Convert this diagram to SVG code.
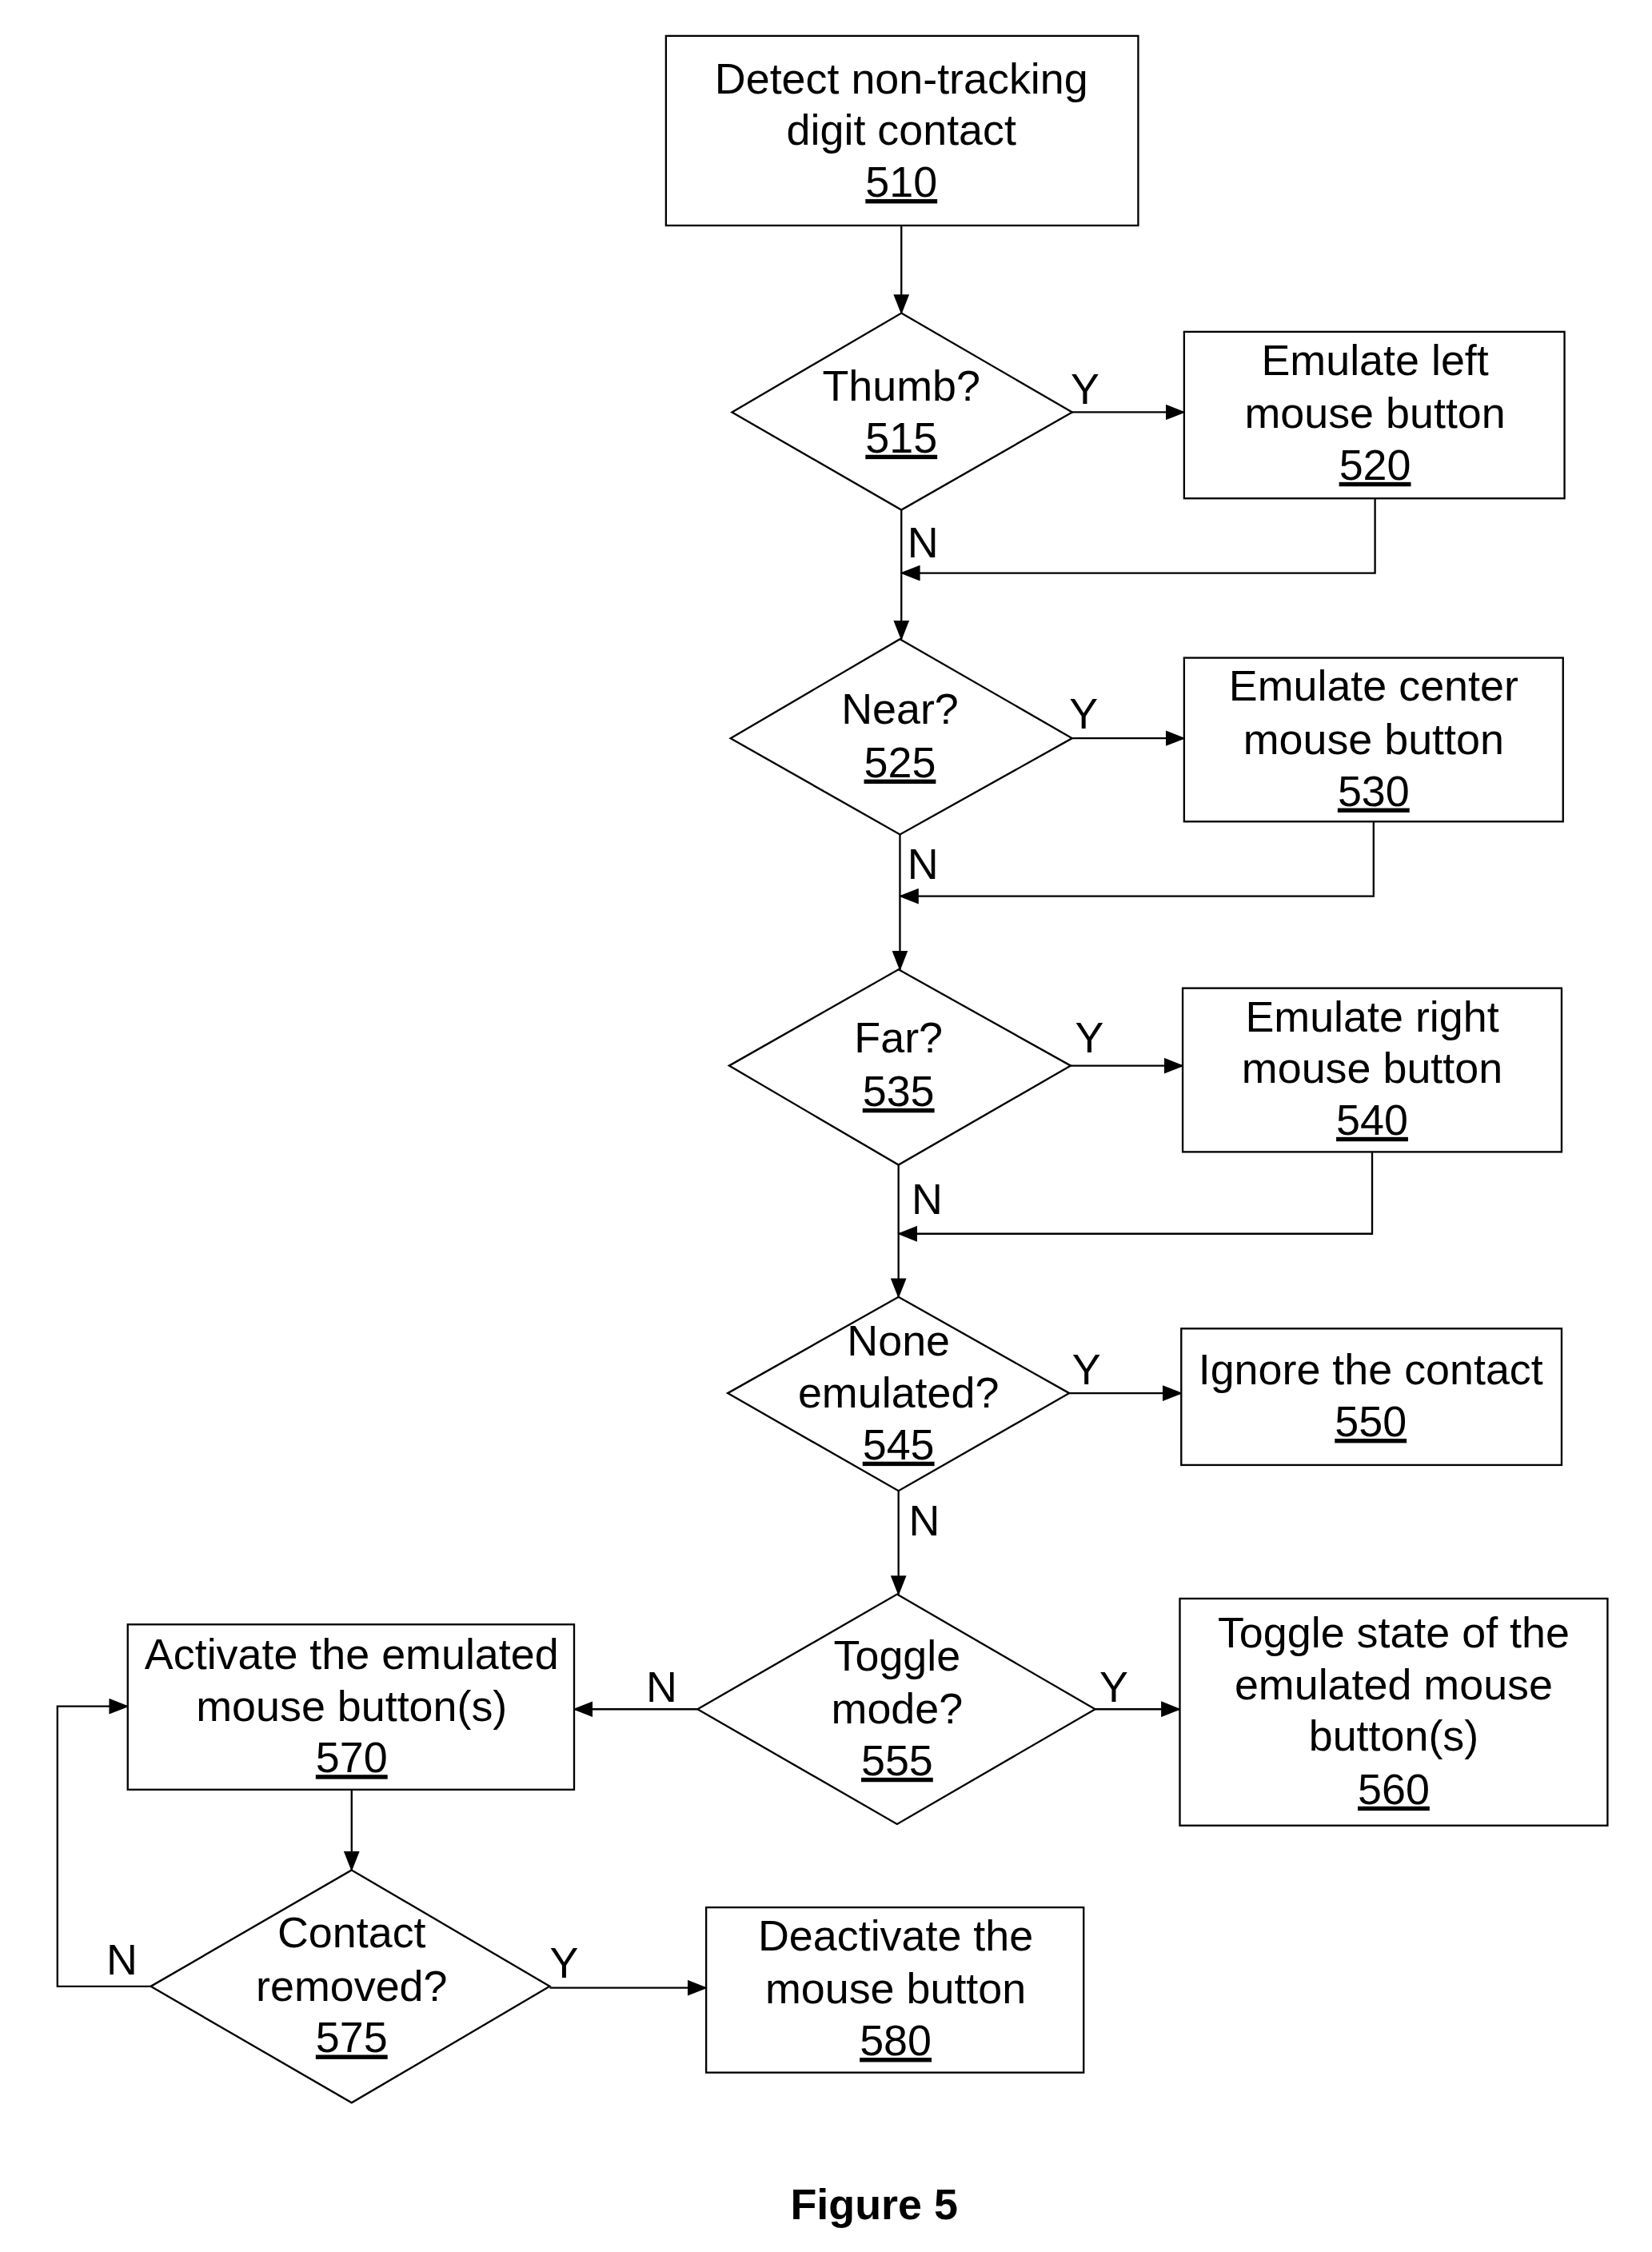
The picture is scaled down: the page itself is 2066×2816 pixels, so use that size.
<svg xmlns="http://www.w3.org/2000/svg" width="2066" height="2816" viewBox="0 0 2066 2816">
<style>
.s{fill:#fff;stroke:#000;stroke-width:1.3}
.l{fill:none;stroke:#000;stroke-width:1.3}
text{font-family:"Liberation Sans",Arial,sans-serif;font-size:30px;text-anchor:middle;fill:#000}
.u{text-decoration:underline}
</style>
<defs><marker id="a" markerWidth="14" markerHeight="11" refX="13" refY="5.5" orient="auto" markerUnits="userSpaceOnUse"><path d="M0,0L14,5.5L0,11z" fill="#000"/></marker></defs>
<rect width="2066" height="2816" fill="#fff"/>
<g transform="scale(1.795,1.796)">
<g id="connectors">
<path class="l" d="M628,157V218" marker-end="url(#a)"/>
<path class="l" d="M747,287H825" marker-end="url(#a)"/>
<path class="l" d="M958,347V399H628" marker-end="url(#a)"/>
<path class="l" d="M628,355V445" marker-end="url(#a)"/>
<path class="l" d="M747,514H825" marker-end="url(#a)"/>
<path class="l" d="M957,572V624H627" marker-end="url(#a)"/>
<path class="l" d="M627,581V675" marker-end="url(#a)"/>
<path class="l" d="M746,742H824" marker-end="url(#a)"/>
<path class="l" d="M956,802V859H626" marker-end="url(#a)"/>
<path class="l" d="M626,811V903" marker-end="url(#a)"/>
<path class="l" d="M745,970H823" marker-end="url(#a)"/>
<path class="l" d="M626,1038V1110" marker-end="url(#a)"/>
<path class="l" d="M763,1190H822" marker-end="url(#a)"/>
<path class="l" d="M486,1190H400" marker-end="url(#a)"/>
<path class="l" d="M245,1246V1302" marker-end="url(#a)"/>
<path class="l" d="M105,1383H40V1188H89" marker-end="url(#a)"/>
<path class="l" d="M383,1384H492" marker-end="url(#a)"/>
<text x="756" y="281">Y</text><text x="643" y="388">N</text>
<text x="755" y="507">Y</text><text x="643" y="612">N</text>
<text x="759" y="733">Y</text><text x="646" y="845">N</text>
<text x="757" y="964">Y</text><text x="644" y="1069">N</text>
<text x="776" y="1185">Y</text><text x="461" y="1185">N</text>
<text x="85" y="1375">N</text><text x="393" y="1377">Y</text>
</g>
<g id="n510"><rect class="s" x="464" y="25" width="329" height="132"/><text x="628" y="65">Detect non-tracking</text><text x="628" y="101">digit contact</text><text class="u" x="628" y="137">510</text></g>
<g id="n515"><path class="s" d="M628,218L747,287L628,355L510,287z"/><text x="628" y="279">Thumb?</text><text class="u" x="628" y="315">515</text></g>
<g id="n520"><rect class="s" x="825" y="231" width="265" height="116"/><text x="958" y="261">Emulate left</text><text x="958" y="298">mouse button</text><text class="u" x="958" y="334">520</text></g>
<g id="n525"><path class="s" d="M627,445L747,514L627,581L509,514z"/><text x="627" y="504">Near?</text><text class="u" x="627" y="541">525</text></g>
<g id="n530"><rect class="s" x="825" y="458" width="264" height="114"/><text x="957" y="488">Emulate center</text><text x="957" y="525">mouse button</text><text class="u" x="957" y="561">530</text></g>
<g id="n535"><path class="s" d="M626,675L746,742L626,811L508,742z"/><text x="626" y="733">Far?</text><text class="u" x="626" y="770">535</text></g>
<g id="n540"><rect class="s" x="824" y="688" width="264" height="114"/><text x="956" y="718">Emulate right</text><text x="956" y="754">mouse button</text><text class="u" x="956" y="790">540</text></g>
<g id="n545"><path class="s" d="M626,903L745,970L626,1038L507,970z"/><text x="626" y="944">None</text><text x="626" y="980">emulated?</text><text class="u" x="626" y="1016">545</text></g>
<g id="n550"><rect class="s" x="823" y="925" width="265" height="95"/><text x="955" y="964">Ignore the contact</text><text class="u" x="955" y="1000">550</text></g>
<g id="n555"><path class="s" d="M625,1110L763,1190L625,1270L486,1190z"/><text x="625" y="1163">Toggle</text><text x="625" y="1200">mode?</text><text class="u" x="625" y="1236">555</text></g>
<g id="n560"><rect class="s" x="822" y="1113" width="298" height="158"/><text x="971" y="1147">Toggle state of the</text><text x="971" y="1183">emulated mouse</text><text x="971" y="1219">button(s)</text><text class="u" x="971" y="1256">560</text></g>
<g id="n570"><rect class="s" x="89" y="1131" width="311" height="115"/><text x="245" y="1162">Activate the emulated</text><text x="245" y="1198">mouse button(s)</text><text class="u" x="245" y="1234">570</text></g>
<g id="n575"><path class="s" d="M245,1302L383,1383L245,1464L105,1383z"/><text x="245" y="1356">Contact</text><text x="245" y="1393">removed?</text><text class="u" x="245" y="1429">575</text></g>
<g id="n580"><rect class="s" x="492" y="1328" width="263" height="115"/><text x="624" y="1358">Deactivate the</text><text x="624" y="1395">mouse button</text><text class="u" x="624" y="1431">580</text></g>
<text x="609" y="1545" font-weight="bold">Figure 5</text>
</g>
</svg>
